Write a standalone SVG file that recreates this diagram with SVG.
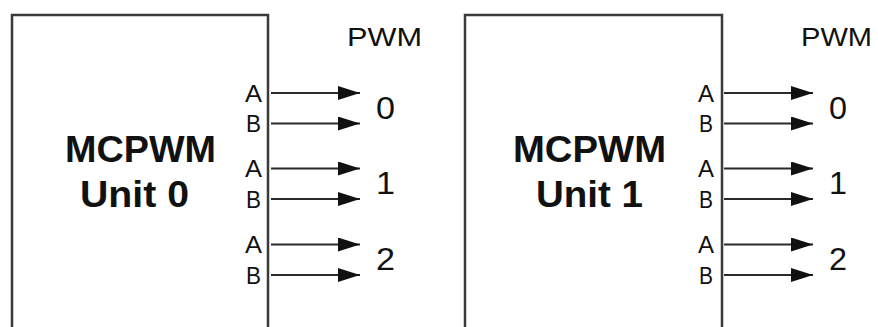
<svg xmlns="http://www.w3.org/2000/svg" width="878" height="327" viewBox="0 0 878 327">
<defs>
<style>
.box{fill:#fff;stroke:#3a3a3a;stroke-width:2.5}
.t{font-family:"Liberation Sans",Arial,sans-serif;fill:#111}
.title{font-size:36px;font-weight:bold}
.pwm{font-size:26px}
.ab{font-size:23px}
.num{font-size:31px}
.conn line{stroke:#2a2a2a;stroke-width:1.8;marker-end:url(#arr)}
</style>
<marker id="arr" markerUnits="userSpaceOnUse" markerWidth="24" markerHeight="14" refX="22" refY="7" orient="auto">
<path d="M0,0 L22,7 L0,14 Z" fill="#111"/>
</marker>
</defs>
<rect width="878" height="327" fill="#fff"/>
<g id="unit0">
<path class="box" d="M12,332 V15 H268 V332"/>
<text class="t title" x="65" y="162" textLength="151" lengthAdjust="spacingAndGlyphs">MCPWM</text>
<text class="t title" x="80" y="207" textLength="109" lengthAdjust="spacingAndGlyphs">Unit 0</text>
<text class="t pwm" x="347" y="46" textLength="75" lengthAdjust="spacingAndGlyphs">PWM</text>
<text class="t ab" x="245" y="101.5" textLength="17" lengthAdjust="spacingAndGlyphs">A</text>
<text class="t ab" x="246" y="132" textLength="15" lengthAdjust="spacingAndGlyphs">B</text>
<text class="t ab" x="245" y="177" textLength="17" lengthAdjust="spacingAndGlyphs">A</text>
<text class="t ab" x="246" y="208" textLength="15" lengthAdjust="spacingAndGlyphs">B</text>
<text class="t ab" x="245" y="253" textLength="17" lengthAdjust="spacingAndGlyphs">A</text>
<text class="t ab" x="246" y="283.5" textLength="15" lengthAdjust="spacingAndGlyphs">B</text>
<text class="t num" x="376" y="119" textLength="19" lengthAdjust="spacingAndGlyphs">0</text>
<text class="t num" x="376" y="193.5" textLength="19" lengthAdjust="spacingAndGlyphs">1</text>
<text class="t num" x="376" y="269.5" textLength="19" lengthAdjust="spacingAndGlyphs">2</text>
</g>
<g id="unit1">
<path class="box" d="M465,332 V15 H722 V332"/>
<text class="t title" x="513" y="162" textLength="153" lengthAdjust="spacingAndGlyphs">MCPWM</text>
<text class="t title" x="536" y="207" textLength="107" lengthAdjust="spacingAndGlyphs">Unit 1</text>
<text class="t pwm" x="801" y="46" textLength="71" lengthAdjust="spacingAndGlyphs">PWM</text>
<text class="t ab" x="698" y="101.5" textLength="16" lengthAdjust="spacingAndGlyphs">A</text>
<text class="t ab" x="699" y="132" textLength="14" lengthAdjust="spacingAndGlyphs">B</text>
<text class="t ab" x="698" y="177" textLength="16" lengthAdjust="spacingAndGlyphs">A</text>
<text class="t ab" x="699" y="208" textLength="14" lengthAdjust="spacingAndGlyphs">B</text>
<text class="t ab" x="698" y="253" textLength="16" lengthAdjust="spacingAndGlyphs">A</text>
<text class="t ab" x="699" y="283.5" textLength="14" lengthAdjust="spacingAndGlyphs">B</text>
<text class="t num" x="829" y="119" textLength="18" lengthAdjust="spacingAndGlyphs">0</text>
<text class="t num" x="829" y="193.5" textLength="18" lengthAdjust="spacingAndGlyphs">1</text>
<text class="t num" x="829" y="269.5" textLength="18" lengthAdjust="spacingAndGlyphs">2</text>
</g>
<g id="connectors" class="conn">
<line x1="271" y1="93" x2="360" y2="93"/>
<line x1="271" y1="123.5" x2="360" y2="123.5"/>
<line x1="271" y1="168.5" x2="360" y2="168.5"/>
<line x1="271" y1="199" x2="360" y2="199"/>
<line x1="271" y1="244.5" x2="360" y2="244.5"/>
<line x1="271" y1="275" x2="360" y2="275"/>
<line x1="724" y1="93" x2="813" y2="93"/>
<line x1="724" y1="123.5" x2="813" y2="123.5"/>
<line x1="724" y1="168.5" x2="813" y2="168.5"/>
<line x1="724" y1="199" x2="813" y2="199"/>
<line x1="724" y1="244.5" x2="813" y2="244.5"/>
<line x1="724" y1="275" x2="813" y2="275"/>
</g>
</svg>
